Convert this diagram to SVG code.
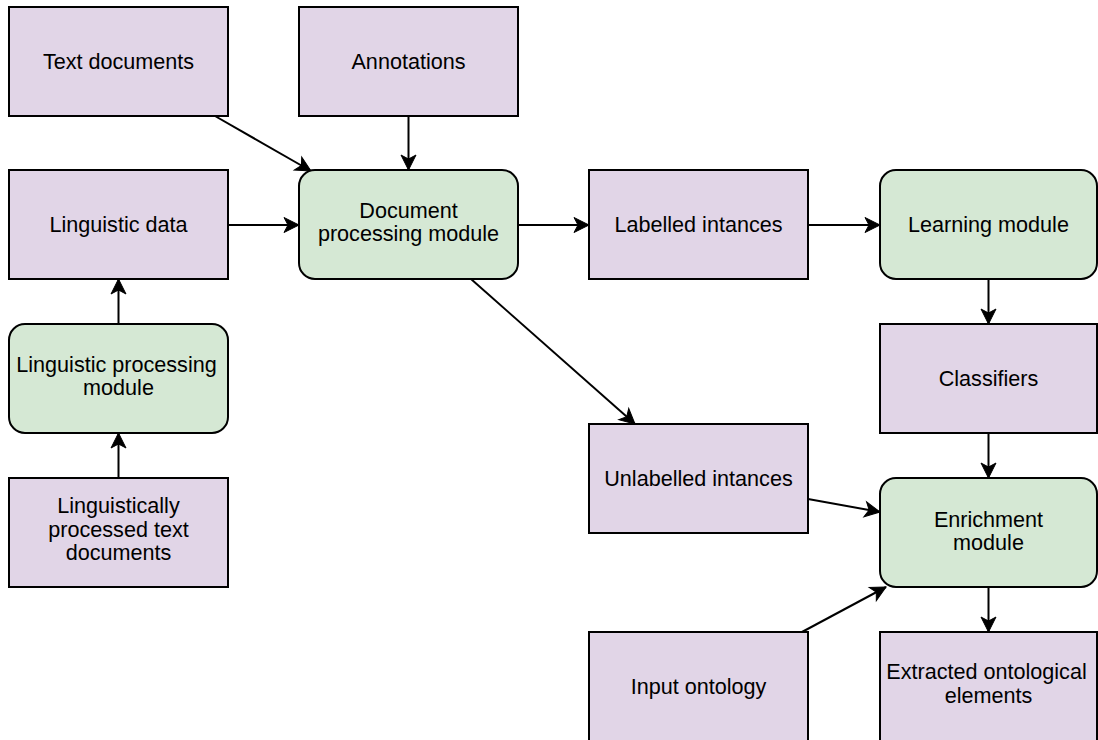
<svg xmlns="http://www.w3.org/2000/svg" width="1098" height="740" viewBox="0 0 1098 740">
  <style>
    .data { fill: #e1d5e7; stroke: #000; stroke-width: 2; }
    .module { fill: #d5e8d4; stroke: #000; stroke-width: 2; }
    .label { font-family: "Liberation Sans", Arial, sans-serif; font-size: 21.6px; fill: #000; text-anchor: middle; }
    .edge { fill: none; stroke: #000; stroke-width: 2; marker-end: url(#arrow); }
  </style>
  <defs>
    <marker id="arrow" markerUnits="userSpaceOnUse" markerWidth="16" markerHeight="16" refX="15" refY="8" orient="auto" overflow="visible">
      <path d="M15,8 L0,0.5 L4,8 L0,15.5 Z" fill="#000" stroke="#000" stroke-width="1" stroke-linejoin="miter"/>
    </marker>
  </defs>
  <rect width="1098" height="740" fill="#fff"/>

  <!-- connectors -->
  <g id="edges">
    <line class="edge" x1="215" y1="116" x2="311" y2="171"/>
    <line class="edge" x1="408.5" y1="116" x2="408.5" y2="170"/>
    <line class="edge" x1="228" y1="225" x2="299" y2="225"/>
    <line class="edge" x1="518" y1="225" x2="589" y2="225"/>
    <line class="edge" x1="808" y1="225" x2="880" y2="225"/>
    <line class="edge" x1="988.5" y1="279" x2="988.5" y2="324"/>
    <line class="edge" x1="988.5" y1="433" x2="988.5" y2="478"/>
    <line class="edge" x1="988.5" y1="587" x2="988.5" y2="632"/>
    <line class="edge" x1="471" y1="279" x2="635" y2="424"/>
    <line class="edge" x1="808" y1="499" x2="880" y2="512"/>
    <line class="edge" x1="802" y1="632" x2="886" y2="587"/>
    <line class="edge" x1="118.5" y1="324" x2="118.5" y2="279"/>
    <line class="edge" x1="118.5" y1="478" x2="118.5" y2="433"/>
  </g>

  <!-- nodes -->
  <g id="text-documents">
    <rect class="data" x="9" y="7" width="219" height="109"/>
    <text class="label" x="118.5" y="68.5">Text documents</text>
  </g>
  <g id="annotations">
    <rect class="data" x="299" y="7" width="219" height="109"/>
    <text class="label" x="408.5" y="68.5">Annotations</text>
  </g>
  <g id="linguistic-data">
    <rect class="data" x="9" y="170" width="219" height="109"/>
    <text class="label" x="118.5" y="231.5">Linguistic data</text>
  </g>
  <g id="document-processing-module">
    <rect class="module" x="299" y="170" width="219" height="109" rx="16" ry="16"/>
    <text class="label" x="408.5" y="217.5">Document</text>
    <text class="label" x="408.5" y="240.5">processing module</text>
  </g>
  <g id="labelled-intances">
    <rect class="data" x="589" y="170" width="219" height="109"/>
    <text class="label" x="698.5" y="231.5">Labelled intances</text>
  </g>
  <g id="learning-module">
    <rect class="module" x="880" y="170" width="217" height="109" rx="16" ry="16"/>
    <text class="label" x="988.5" y="231.5">Learning module</text>
  </g>
  <g id="linguistic-processing-module">
    <rect class="module" x="9" y="324" width="219" height="109" rx="16" ry="16"/>
    <text class="label" x="116.5" y="371.5">Linguistic processing</text>
    <text class="label" x="118.5" y="394.5">module</text>
  </g>
  <g id="classifiers">
    <rect class="data" x="880" y="324" width="217" height="109"/>
    <text class="label" x="988.5" y="385.5">Classifiers</text>
  </g>
  <g id="unlabelled-intances">
    <rect class="data" x="589" y="424" width="219" height="109"/>
    <text class="label" x="698.5" y="485.5">Unlabelled intances</text>
  </g>
  <g id="linguistically-processed-text-documents">
    <rect class="data" x="9" y="478" width="219" height="109"/>
    <text class="label" x="118.5" y="513">Linguistically</text>
    <text class="label" x="118.5" y="536.5">processed text</text>
    <text class="label" x="118.5" y="560">documents</text>
  </g>
  <g id="enrichment-module">
    <rect class="module" x="880" y="478" width="217" height="109" rx="16" ry="16"/>
    <text class="label" x="988.5" y="526.5">Enrichment</text>
    <text class="label" x="988.5" y="549.5">module</text>
  </g>
  <g id="input-ontology">
    <rect class="data" x="589" y="632" width="219" height="110"/>
    <text class="label" x="698.5" y="694">Input ontology</text>
  </g>
  <g id="extracted-ontological-elements">
    <rect class="data" x="880" y="632" width="217" height="110"/>
    <text class="label" x="986.5" y="679">Extracted ontological</text>
    <text class="label" x="988.5" y="702.5">elements</text>
  </g>
</svg>
